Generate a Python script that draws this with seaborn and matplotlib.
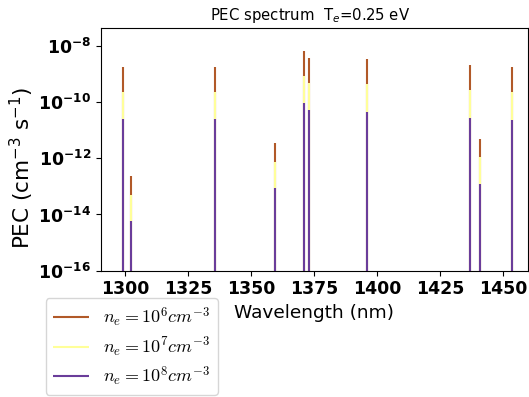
import numpy as np
import matplotlib
matplotlib.use("Agg")
import matplotlib.pyplot as plt
from matplotlib.font_manager import FontProperties
import seaborn as sns

# Wavelengths of the lines (nm)
wavelengths = [1299.2, 1302.4, 1335.6, 1359.6, 1370.9, 1373.0, 1396.0, 1436.9, 1440.6, 1453.6]
# log10 of PEC for each density
log_pec_ne6 = [-8.77, -12.65, -8.75, -11.46, -8.19, -8.43, -8.47, -8.69, -11.30, -8.77]
log_pec_ne7 = [-9.65, -13.30, -9.65, -12.12, -9.07, -9.32, -9.37, -9.59, -11.97, -9.66]
log_pec_ne8 = [-10.62, -14.25, -10.62, -13.06, -10.05, -10.30, -10.36, -10.58, -12.92, -10.65]
labels = [r"$n_e=10^6cm^{-3}$", r"$n_e=10^7cm^{-3}$", r"$n_e=10^8cm^{-3}$"]

pal = sns.color_palette("Paired")
colors = [pal[11], pal[10], pal[9]]

fig = plt.figure(figsize=(5.29, 3.97), dpi=100)
ax = fig.add_axes([100.7 / 529, 1 - 270.7 / 397, (528 - 100.7) / 529, (270.7 - 28.3) / 397])

series = [log_pec_ne6, log_pec_ne7, log_pec_ne8]
for vals, col, lab in zip(series, colors, labels):
    ax.vlines(wavelengths, 1e-16, 10 ** np.array(vals), colors=[col], linewidth=1.5, label=lab)

ax.set_yscale("log")
ax.set_ylim(1e-16, 10 ** -7.38)
ax.set_xlim(1290.4, 1459.8)
ax.set_xticks([1300, 1325, 1350, 1375, 1400, 1425, 1450])
ax.set_yticks([1e-16, 1e-14, 1e-12, 1e-10, 1e-8])
ax.minorticks_off()
for t in ax.get_xticklabels() + ax.get_yticklabels():
    t.set_fontweight("bold")
    t.set_fontsize(12.5)

ax.set_xlabel("Wavelength (nm)", fontsize=13.3)
ax.set_ylabel(r"PEC (cm$^{-3}$ s$^{-1}$)", fontsize=15.5)
ax.yaxis.set_label_coords((36 - 100.7) / 427.3, (270.7 - 168) / 242.4)
ax.set_title(r"PEC spectrum  T$_e$=0.25 eV", fontsize=10.7, x=0.49)

prop = FontProperties(size=13, math_fontfamily="cm")
ax.legend(loc="upper left", bbox_to_anchor=(45.7 / 529, 1 - 298.3 / 397),
          bbox_transform=fig.transFigure, borderaxespad=0, prop=prop,
          handlelength=2.0, labelspacing=0.33)

fig.savefig("out.png", dpi=100)
